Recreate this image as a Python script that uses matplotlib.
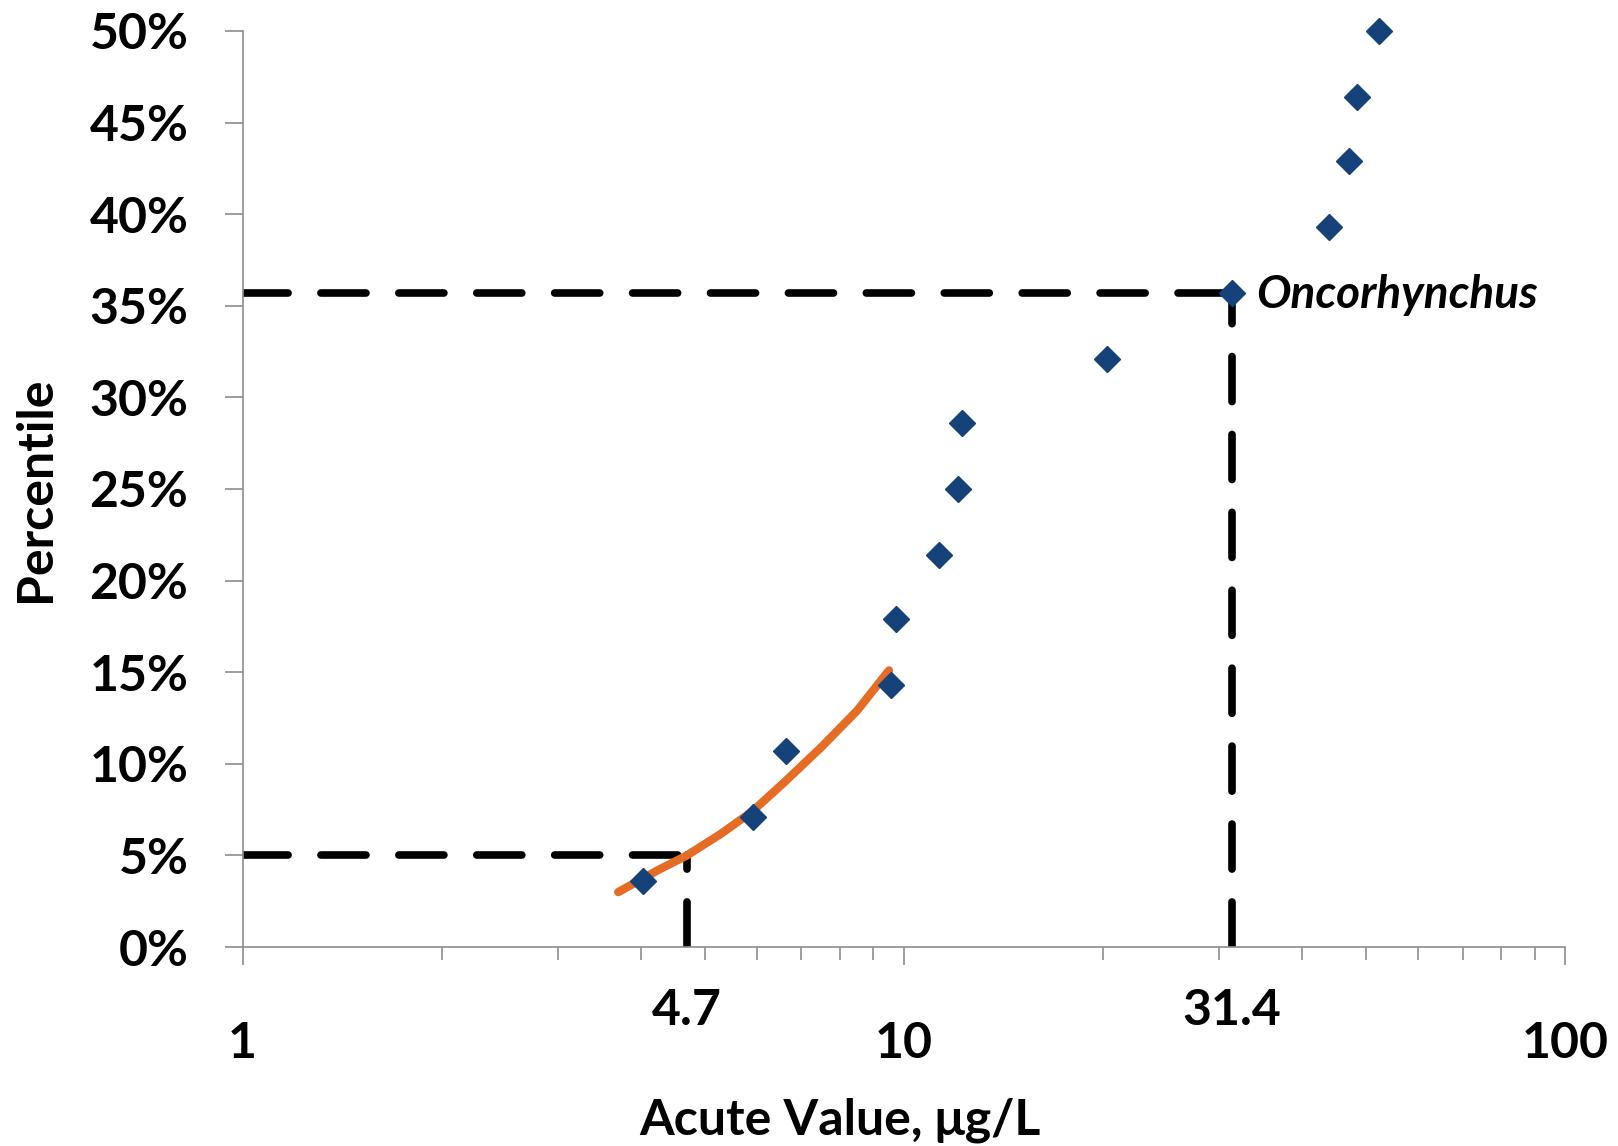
import matplotlib
matplotlib.use("Agg")
import matplotlib.pyplot as plt
import matplotlib.transforms as mtransforms
from matplotlib.ticker import FixedLocator, FuncFormatter, NullFormatter

# species mean acute values (ug/L) and their cumulative percentile
acute_values = [4.03, 5.92, 6.64, 9.58, 9.72, 11.3, 12.06, 12.23, 20.3, 31.4,
                43.9, 47.2, 48.4, 52.4]
percentiles = [3.6, 7.1, 10.7, 14.3, 17.9, 21.4, 25.0, 28.6, 32.1, 35.7,
               39.3, 42.9, 46.4, 50.0]

# fitted curve through the lowest four values
fit_x = [3.7, 4.25, 4.7, 5.3, 5.9, 6.6, 7.5, 8.5, 9.5]
fit_y = [3.0, 4.2, 5.0, 6.2, 7.4, 9.0, 10.9, 12.9, 15.1]

# reference lines: 5th percentile value and Oncorhynchus
fav_value, fav_pct = 4.7, 5.0
onc_value, onc_pct = 31.4, 35.7
onc_name = "Oncorhynchus"

y_ticks = [0, 5, 10, 15, 20, 25, 30, 35, 40, 45, 50]
x_major = [1, 10, 100]
x_minor = [2, 3, 4, 5, 6, 7, 8, 9, 20, 30, 40, 50, 60, 70, 80, 90]

plt.rcParams["font.family"] = ["Lato", "DejaVu Sans"]
plt.rcParams["font.weight"] = "bold"

AXIS_GRAY = "#8c8c8c"
BLUE = "#16427a"
ORANGE = "#e46c25"

fig = plt.figure(figsize=(16.18, 11.46), dpi=100)
ax = fig.add_axes([0.1499, 0.1736, 0.9672 - 0.1499, 0.973 - 0.1736])

ax.set_xscale("log")
ax.set_xlim(1, 100)
ax.set_ylim(0, 50)

# dashed guide lines
dash_kw = dict(color="black", lw=5.5, dashes=(5.9, 4.3),
               dash_capstyle="round", zorder=2)
ax.plot([1, fav_value], [fav_pct, fav_pct], **dash_kw)
ax.plot([fav_value, fav_value], [0, fav_pct], **dash_kw)
ax.plot([1, onc_value], [onc_pct, onc_pct], **dash_kw)
ax.plot([onc_value, onc_value], [0, onc_pct], **dash_kw)

ax.plot(fit_x, fit_y, color=ORANGE, lw=6, solid_capstyle="round",
        solid_joinstyle="round", zorder=3)
ax.plot(acute_values, percentiles, linestyle="none", marker="D", ms=13.5,
        color=BLUE, mec=BLUE, zorder=4, clip_on=False)

ax.annotate(onc_name, (onc_value, onc_pct), xytext=(17.5, -11),
            textcoords="offset points", ha="left", va="baseline",
            fontsize=33, fontstyle="italic", fontweight="bold")

# axes styling
for side in ["top", "right"]:
    ax.spines[side].set_visible(False)
for side in ["left", "bottom"]:
    ax.spines[side].set_color(AXIS_GRAY)
    ax.spines[side].set_linewidth(1.2)

ax.yaxis.set_major_locator(FixedLocator(y_ticks))
ax.yaxis.set_major_formatter(FuncFormatter(lambda v, p: f"{v:.0f}%"))
ax.xaxis.set_major_locator(FixedLocator(x_major))
ax.xaxis.set_minor_locator(FixedLocator(x_minor))
ax.xaxis.set_major_formatter(FuncFormatter(lambda v, p: f"{v:g}"))
ax.xaxis.set_minor_formatter(NullFormatter())

ax.tick_params(axis="y", direction="out", length=13, width=1.2,
               color=AXIS_GRAY, labelsize=36, pad=26)
ax.tick_params(axis="x", which="major", direction="out", length=13, width=1.2,
               color=AXIS_GRAY, labelsize=36, pad=40)
ax.tick_params(axis="x", which="minor", direction="out", length=9, width=1.2,
               color=AXIS_GRAY)

# value labels under the axis for the two guide lines
trans = mtransforms.blended_transform_factory(ax.transData, ax.transAxes)
for val in [fav_value, onc_value]:
    ax.text(val, -0.045, f"{val:g}", transform=trans, ha="center", va="top",
            fontsize=36)

fig.text(0.519, 0.0096, "Acute Value, μg/L", ha="center", va="baseline",
         fontsize=36)
fig.text(0.0222, 0.573, "Percentile", rotation=90, ha="center", va="center",
         fontsize=36)

fig.savefig("out.png", dpi=100)
